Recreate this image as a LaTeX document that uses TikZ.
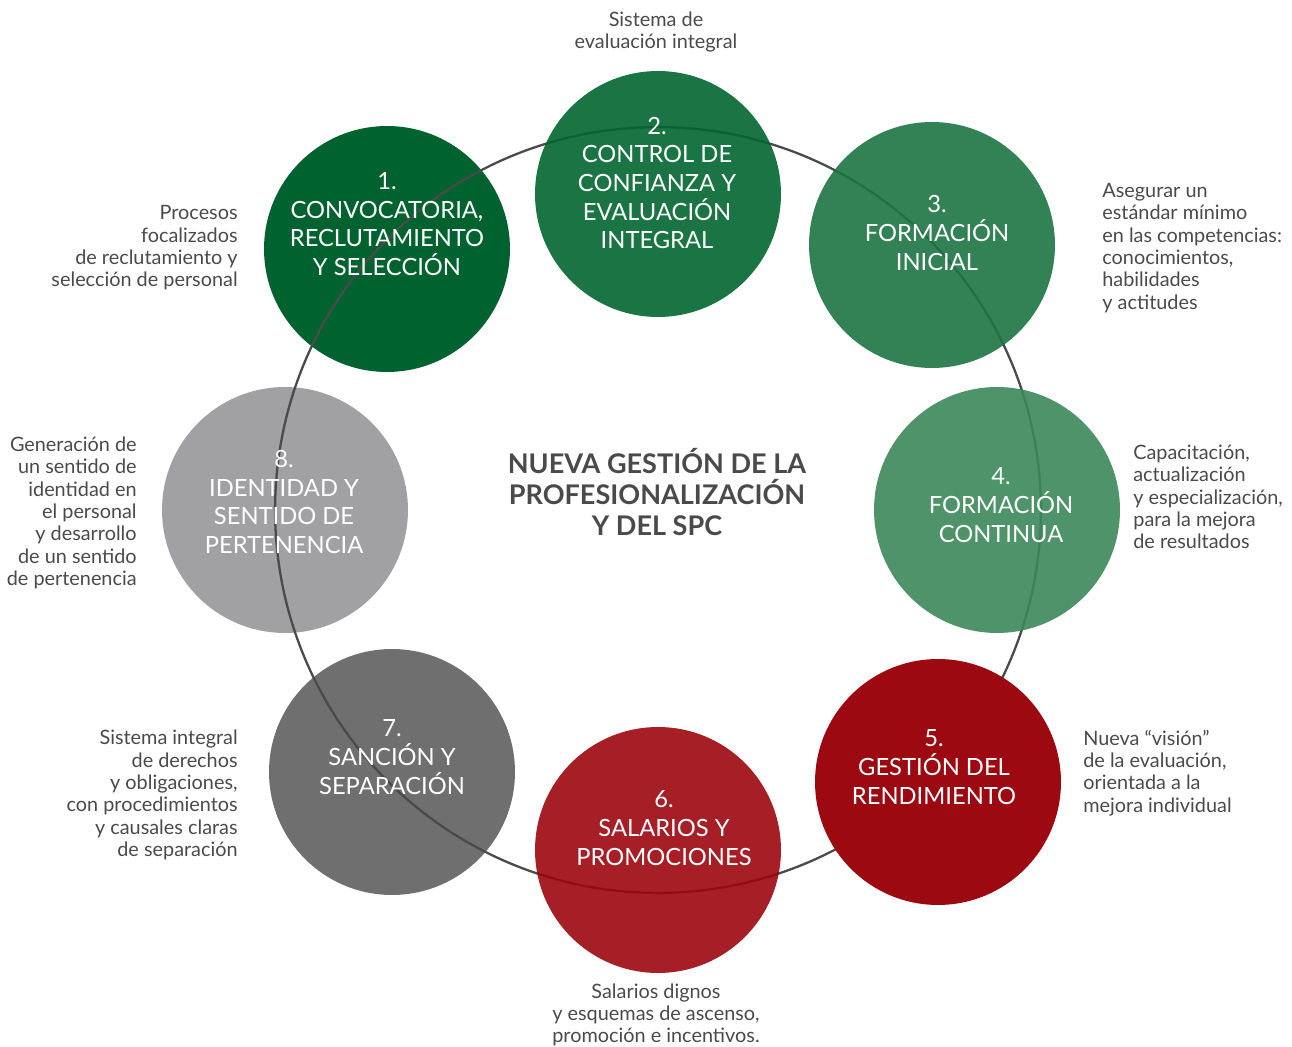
\documentclass[tikz,border=0pt]{standalone}
\usepackage{fontspec}
\setmainfont{Lato}
\usepackage{xcolor}
\definecolor{VerdeOscuro} {RGB}{0,  98,  47}
\definecolor{VerdeMedio}  {RGB}{2,  101, 47}
\definecolor{VerdeClaro}  {RGB}{29, 116, 68}
\definecolor{VerdeSuave}  {RGB}{59, 135, 89}
\definecolor{RojoOscuro}  {RGB}{156, 9,  17}
\definecolor{RojoMedio}   {RGB}{156, 6,  14}
\definecolor{GrisOscuro}  {RGB}{111, 111, 111}
\definecolor{GrisClaro}   {RGB}{161, 161, 163}
\definecolor{GrisTexto}   {RGB}{74,  74,  74}
\usetikzlibrary{positioning}

\begin{document}
\begin{tikzpicture}[
  x=0.02cm, y=-0.02cm,
  etapa/.style={
    circle, minimum size=4.92cm,
    inner sep=0pt},
  translucida/.style={etapa,
    fill opacity=0.9},
  rotulo/.style={
    align=center, text=white, inner sep=0pt,
    font=\fontsize{13.5}{16.3}\selectfont},
  nota/.style={
    text=GrisTexto, inner sep=0pt,
    font=\fontsize{11.3}{12.7}\selectfont},
  titulo/.style={
    text=GrisTexto, align=center, inner sep=0pt,
    font=\fontsize{15.4}{17.6}\selectfont\bfseries},
  anillo/.style={
    draw=GrisTexto, line width=1.3pt}
]
\useasboundingbox (0,0) rectangle (1292,1047);

\coordinate (centro) at (658,510);

\node[etapa, fill=VerdeOscuro] (e1) at (387,249) {};
\node[etapa, fill=GrisOscuro] (e7) at (392,772) {};
\node[etapa, fill=GrisClaro] (e8) at (285,510) {};

\draw[anillo] (centro) circle[radius=7.66cm];

\node[translucida, fill=VerdeMedio] (e2) at (658,194) {};
\node[translucida, fill=VerdeClaro] (e3) at (932,245) {};
\node[translucida, fill=VerdeSuave] (e4) at (997,510) {};
\node[etapa, fill=RojoOscuro] (e5) at (938,782) {};
\node[translucida, fill=RojoMedio] (e6) at (658,850) {};

\node[rotulo] (r1) at (387,224)
  {1.\\CONVOCATORIA,\\RECLUTAMIENTO\\Y SELECCIÓN};
\node[rotulo] (r2) at (657,183)
  {2.\\CONTROL DE\\CONFIANZA Y\\EVALUACIÓN\\INTEGRAL};
\node[rotulo] (r3) at (937,233)
  {3.\\FORMACIÓN\\INICIAL};
\node[rotulo] (r4) at (1001,505)
  {4.\\FORMACIÓN\\CONTINUA};
\node[rotulo] (r5) at (934,767)
  {5.\\GESTIÓN DEL\\RENDIMIENTO};
\node[rotulo] (r6) at (664,828)
  {6.\\SALARIOS Y\\PROMOCIONES};
\node[rotulo] (r7) at (392,757)
  {7.\\SANCIÓN Y\\SEPARACIÓN};
\node[rotulo] (r8) at (284,502)
  {8.\\IDENTIDAD Y\\SENTIDO DE\\PERTENENCIA};

\node[titulo] (tema) at (657,492)
  {NUEVA GESTIÓN DE LA\\PROFESIONALIZACIÓN\\Y DEL SPC};

\node[nota, align=right, anchor=east] (n1) at (238,248)
  {Procesos\\focalizados\\de reclutamiento y\\selección de personal};
\node[nota, align=center] (n2) at (656,32)
  {Sistema de\\evaluación integral};
\node[nota, align=left, anchor=west] (n3) at (1102,248)
  {Asegurar un\\estándar mínimo\\en las competencias:\\conocimientos,\\habilidades\\y actitudes};
\node[nota, align=left, anchor=west] (n4) at (1133,497)
  {Capacitación,\\actualización\\y especialización,\\para la mejora\\de resultados};
\node[nota, align=left, anchor=west] (n5) at (1083,773)
  {Nueva “visión”\\de la evaluación,\\orientada a la\\mejora individual};
\node[nota, align=center] (n6) at (656,1015)
  {Salarios dignos\\y esquemas de ascenso,\\promoción e incentivos.};
\node[nota, align=right, anchor=east] (n7) at (238,795)
  {Sistema integral\\de derechos\\y obligaciones,\\con procedimientos\\y causales claras\\de separación};
\node[nota, align=right, anchor=east] (n8) at (137,513)
  {Generación de\\un sentido de\\identidad en\\el personal\\y desarrollo\\de un sentido\\de pertenencia};

\end{tikzpicture}
\end{document}
